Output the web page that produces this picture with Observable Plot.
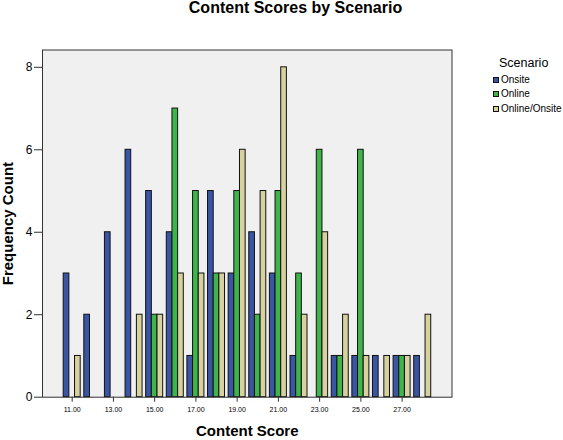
<!DOCTYPE html>
<html>
<head>
<meta charset="utf-8">
<script src="https://cdn.jsdelivr.net/npm/d3@7"></script>
<script src="https://cdn.jsdelivr.net/npm/@observablehq/plot@0.6"></script>
<style>
  html, body { margin: 0; padding: 0; background: #fff; }
  body { font-family: "Liberation Sans", Arial, sans-serif; }
  #wrap { position: relative; width: 563px; height: 440px; overflow: hidden; }
  #title { position: absolute; left: 0; top: 0; width: 591px; text-align: center;
           font-size: 16px; line-height: 16px; font-weight: bold; color: #000; }
  #chart { position: absolute; left: 0; top: 0; }
  #legend-title { position: absolute; left: 499px; top: 57.4px; font-size: 12.5px; line-height: 12.5px; color: #000; }
  .item { position: absolute; left: 493px; height: 12px; display: flex; align-items: center; }
  .sw { width: 6px; height: 6px; box-sizing: border-box; border: 1px solid #111; margin-right: 2px; }
  .lab { font-size: 10px; line-height: 12px; color: #000; white-space: nowrap; }
  g[aria-label="x-axis label"], g[aria-label="y-axis label"] { font-size: 15px; font-weight: bold; }
  g[aria-label="x-axis tick label"] { fill: #000; }
</style>
</head>
<body>
<div id="wrap">
  <div id="title">Content Scores by Scenario</div>
  <div id="chart"></div>
  <div id="legend-title">Scenario</div>
</div>
<script>
// ---- data ----
const scores = [11, 12, 13, 14, 15, 16, 17, 18, 19, 20, 21, 22, 23, 24, 25, 26, 27, 28];
const scenarios = ["Onsite", "Online", "Online/Onsite"];
const onsite       = [3, 2, 4, 6, 5, 4, 1, 5, 3, 4, 3, 1, 0, 1, 1, 1, 1, 1];
const online       = [0, 0, 0, 0, 2, 7, 5, 3, 5, 2, 5, 3, 6, 1, 6, 0, 1, 0];
const onlineOnsite = [1, 0, 0, 2, 2, 3, 3, 3, 6, 5, 8, 2, 4, 2, 1, 1, 1, 2];
const xTicks = [11, 13, 15, 17, 19, 21, 23, 25, 27];
const yTicks = [0, 2, 4, 6, 8];
const colors = ["#3A55A3", "#3DB54A", "#D6D19E"];

// ---- table ----
const series = [onsite, online, onlineOnsite];
const rows = scores.flatMap((s, i) =>
  scenarios.map((sc, k) => ({score: s, scenario: sc, k, count: series[k][i]})));
const w = 0.275; // bar width in score units

const chart = Plot.plot({
  width: 563,
  height: 440,
  marginLeft: 42,
  marginRight: 111.5,
  marginTop: 49.5,
  marginBottom: 43.3,
  style: {fontFamily: '"Liberation Sans", Arial, sans-serif', background: "transparent", color: "#000"},
  x: {domain: [9.56, 29.42]},
  y: {domain: [0, 8.42]},
  color: {domain: scenarios, range: colors},
  marks: [
    Plot.frame({fill: "#F0F0F0"}),
    Plot.rect(rows, {
      x1: d => d.score + (d.k - 1.5) * w,
      x2: d => d.score + (d.k - 0.5) * w,
      y1: 0,
      y2: "count",
      fill: "scenario",
      stroke: "#111",
      strokeWidth: 1
    }),
    Plot.frame({stroke: "#333", strokeWidth: 1}),
    Plot.axisY({
      ticks: yTicks, tickSize: 8, tickPadding: 2, fontSize: 12, stroke: "#333",
      tickFormat: d3.format("d"),
      label: "Frequency Count", labelAnchor: "center", labelArrow: "none", labelOffset: 40
    }),
    Plot.axisX({
      ticks: xTicks, tickSize: 5, tickPadding: 5, fontSize: 7, stroke: "#333", fill: "#000",
      tickFormat: d3.format(".2f"),
      label: "Content Score", labelAnchor: "center", labelArrow: "none", labelOffset: 39
    })
  ]
});
document.getElementById("chart").appendChild(chart);

// ---- legend ----
const wrap = document.getElementById("wrap");
scenarios.forEach((sc, i) => {
  const item = document.createElement("div");
  item.className = "item";
  item.style.top = (73.5 + i * 14.9) + "px";
  const sw = document.createElement("div");
  sw.className = "sw";
  sw.style.background = colors[i];
  const lab = document.createElement("span");
  lab.className = "lab";
  lab.textContent = sc;
  item.appendChild(sw);
  item.appendChild(lab);
  wrap.appendChild(item);
});
</script>
</body>
</html>
